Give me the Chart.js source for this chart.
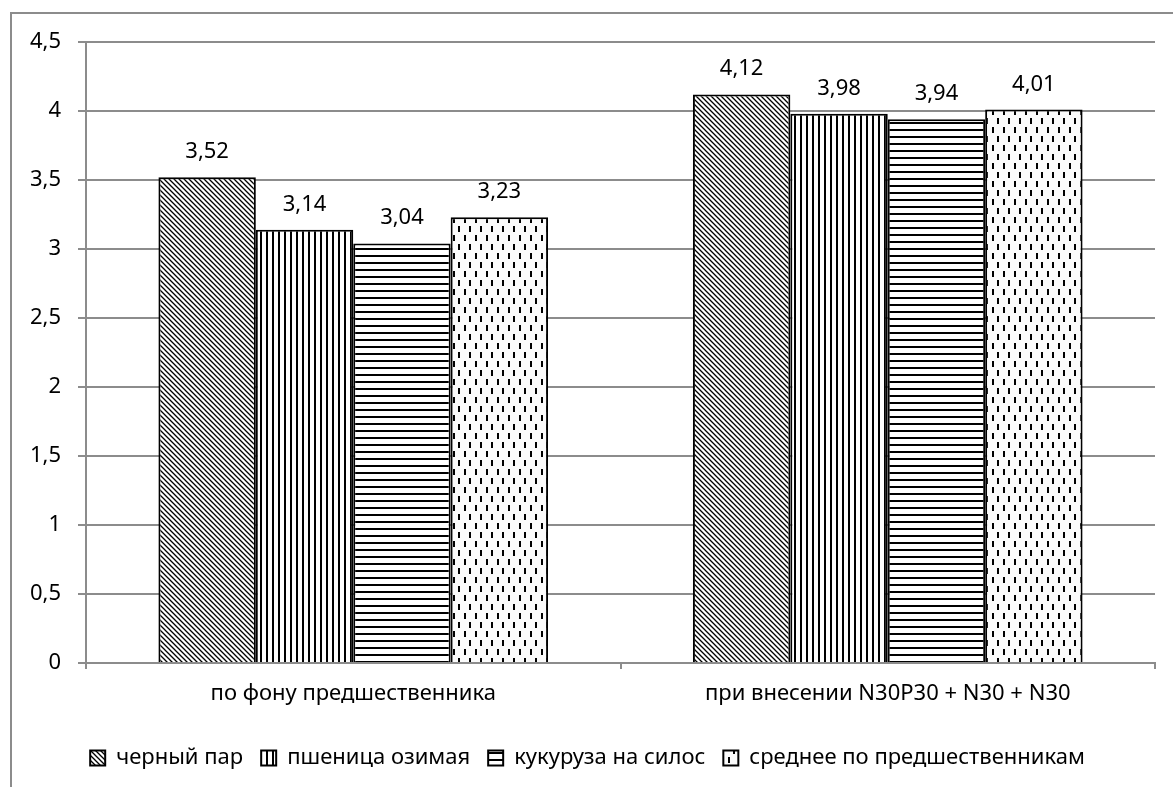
<!DOCTYPE html>
<html>
<head>
<meta charset="utf-8">
<script src="https://cdn.jsdelivr.net/npm/chart.js@4/dist/chart.umd.min.js"></script>
<style>
  body { margin: 0; background: #fff; }
  #wrap { width: 1173px; height: 787px; }
</style>
</head>
<body>
<div id="wrap"><canvas id="myChart" width="1173" height="787"></canvas></div>
<script>
const categories = ["по фону предшественника", "при внесении N30P30 + N30 + N30"];
const seriesNames = ["черный пар", "пшеница озимая", "кукуруза на силос", "среднее по предшественникам"];
const chernyPar = [3.52, 4.12];
const pshenitsa = [3.14, 3.98];
const kukuruza = [3.04, 3.94];
const srednee = [3.23, 4.01];
const yTicks = [0, 0.5, 1, 1.5, 2, 2.5, 3, 3.5, 4, 4.5];

const FONT = "'Noto Sans', sans-serif";
const FS = 22;

// штриховки для столбцов
function makePattern(kind) {
    const c = document.createElement("canvas");
    const g = c.getContext("2d");
    if (kind === "diag") {
        c.width = 5; c.height = 5;
        g.fillStyle = "#fff"; g.fillRect(0, 0, 5, 5);
        g.strokeStyle = "#000"; g.lineWidth = 1.3;
        g.beginPath();
        g.moveTo(-1, -1); g.lineTo(6, 6);
        g.moveTo(-1, 4); g.lineTo(1, 6);
        g.moveTo(4, -1); g.lineTo(6, 1);
        g.stroke();
    } else if (kind === "vert") {
        c.width = 6; c.height = 6;
        g.fillStyle = "#fff"; g.fillRect(0, 0, 6, 6);
        g.fillStyle = "#000"; g.fillRect(2, 0, 2, 6);
    } else if (kind === "horiz") {
        c.width = 7; c.height = 7;
        g.fillStyle = "#fff"; g.fillRect(0, 0, 7, 7);
        g.fillStyle = "#000"; g.fillRect(0, 3, 7, 2);
    } else {
        c.width = 11; c.height = 18;
        g.fillStyle = "#fbfbfb"; g.fillRect(0, 0, 11, 18);
        g.fillStyle = "#000";
        g.fillRect(2, 1, 2, 6);
        g.fillRect(7, 10, 2, 6);
    }
    return g.createPattern(c, "repeat");
}

const fmt = v => String(v).replace(".", ",");

const valueLabels = {
    id: "valueLabels",
    afterDatasetsDraw(chart) {
        const ctx = chart.ctx;
        ctx.save();
        ctx.font = FS + "px " + FONT;
        ctx.fillStyle = "#000";
        ctx.textAlign = "center";
        ctx.textBaseline = "alphabetic";
        chart.data.datasets.forEach((ds, i) => {
            chart.getDatasetMeta(i).data.forEach((bar, j) => {
                ctx.fillText(fmt(ds.data[j]), bar.x, bar.y - 19);
            });
        });
        ctx.restore();
    }
};

const outerFrame = {
    id: "outerFrame",
    beforeDraw(chart) {
        const ctx = chart.ctx;
        ctx.save();
        ctx.strokeStyle = "#8c8c8c";
        ctx.lineWidth = 2;
        ctx.beginPath();
        ctx.moveTo(11, 790); ctx.lineTo(11, 13); ctx.lineTo(1180, 13);
        ctx.stroke();
        ctx.restore();
    }
};

const patterns = [makePattern("diag"), makePattern("vert"), makePattern("horiz"), makePattern("dots")];
const seriesData = [chernyPar, pshenitsa, kukuruza, srednee];

const ctx = document.getElementById("myChart").getContext("2d");
new Chart(ctx, {
    type: "bar",
    data: {
        labels: categories,
        datasets: seriesNames.map((name, i) => ({
            label: name,
            data: seriesData[i],
            backgroundColor: patterns[i],
            borderColor: "#000",
            borderWidth: 2,
            borderSkipped: "bottom",
            barPercentage: 1,
            categoryPercentage: 0.729,
        })),
    },
    options: {
        responsive: false,
        animation: false,
        layout: { padding: { left: 20, right: 18, top: 42, bottom: 8 } },
        plugins: {
            legend: {
                position: "bottom",
                labels: {
                    font: { family: FONT, size: FS },
                    color: "#000",
                    boxWidth: 15,
                    boxHeight: 15,
                    padding: 18,
                },
            },
            tooltip: { enabled: false },
        },
        scales: {
            y: {
                min: 0,
                max: 4.5,
                afterBuildTicks: scale => { scale.ticks = yTicks.map(v => ({ value: v })); },
                afterFit: scale => { scale.width = 66; },
                ticks: {
                    font: { family: FONT, size: FS },
                    color: "#000",
                    padding: 17,
                    callback: v => fmt(v),
                },
                grid: { color: "#8c8c8c", lineWidth: 2, tickLength: 8 },
                border: { color: "#8c8c8c", width: 2 },
            },
            x: {
                afterFit: scale => { scale.height = 66; },
                ticks: {
                    font: { family: FONT, size: FS },
                    color: "#000",
                    padding: 12,
                },
                grid: { display: true, offset: true, drawOnChartArea: false, color: "#8c8c8c", lineWidth: 2, tickLength: 6 },
                border: { color: "#8c8c8c", width: 2 },
            },
        },
    },
    plugins: [valueLabels, outerFrame],
});
</script>
</body>
</html>
